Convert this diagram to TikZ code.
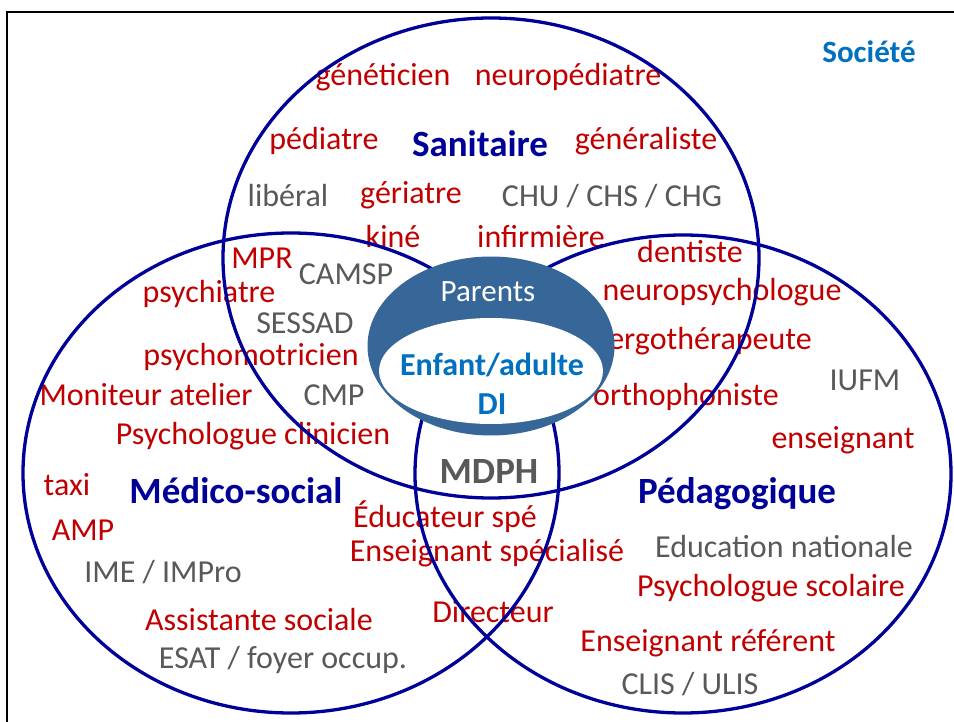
\documentclass[tikz,border=0pt]{standalone}
\usepackage{fontspec}
\setmainfont{Carlito}
\definecolor{rouge}{RGB}{192,0,0}
\definecolor{gris}{RGB}{89,89,89}
\definecolor{marine}{RGB}{0,0,153}
\definecolor{bleu}{RGB}{0,112,192}
\definecolor{bleufonce}{RGB}{54,103,152}

\begin{document}
\begin{tikzpicture}[x=1pt,y=-1pt,
    cercle/.style={draw=marine,line width=3.3pt}]

      \useasboundingbox (0,0) rectangle (954,722);
      \clip (0,0) rectangle (954,722);
      \draw[line width=2pt] (7,12) rectangle (990,760);

      \begin{scope}[every node/.style={inner sep=0pt,text=rouge,font=\fontsize{32}{38}\selectfont}]
        \node (genet)    at (383,77)  {généticien};
        \node (neuroped) at (568,77)  {neuropédiatre};
        \node (ped)      at (324,141) {pédiatre};
        \node (gene)     at (646,141) {généraliste};
        \node (ger)      at (411,195) {gériatre};
        \node (kine)     at (393,237) {kiné};
        \node (infi)     at (541,237) {infirmière};
        \node (mpr)      at (262,258) {MPR};
        \node (dent)     at (690,252) {dentiste};
        \node (neuropsy) at (722,292) {neuropsychologue};
        \node (psy)      at (209,294) {psychiatre};
        \node (ergo)     at (710,341) {ergothérapeute};
        \node (psymot)   at (251,357) {psychomotricien};
        \node (moni)     at (146,395) {Moniteur atelier};
        \node (ortho)    at (686,397) {orthophoniste};
        \node (psycli)   at (253,436) {Psychologue clinicien};
        \node (ens)      at (843,440) {enseignant};
        \node (taxi)     at (67,485)  {taxi};
        \node (educ)     at (445,517) {Éducateur spé};
        \node (amp)      at (83,530)  {AMP};
        \node (ensspe)   at (487,553) {Enseignant spécialisé};
        \node (psysco)   at (771,588) {Psychologue scolaire};
        \node (assist)   at (259,620) {Assistante sociale};
        \node (dir)      at (493,612) {Directeur};
        \node (ensref)   at (708,643) {Enseignant référent};
      \end{scope}

      \begin{scope}[every node/.style={inner sep=0pt,text=gris,font=\fontsize{32}{38}\selectfont}]
        \node (lib)   at (288,196) {libéral};
        \node (chu)   at (612,196) {CHU / CHS / CHG};
        \node (camsp) at (346,274) {CAMSP};
        \node (sessad) at (305,323) {SESSAD};
        \node (cmp)   at (334,395) {CMP};
        \node (iufm)  at (865,380) {IUFM};
        \node (educnat) at (784,547) {Education nationale};
        \node (ime)   at (163,572) {IME / IMPro};
        \node (esat)  at (283,660) {ESAT / foyer occup.};
        \node (clis)  at (690,684) {CLIS / ULIS};
      \end{scope}

      \begin{scope}[every node/.style={inner sep=0pt,text=marine,font=\fontsize{37}{44}\selectfont\bfseries}]
        \node (sani) at (480,144) {Sanitaire};
        \node (medi) at (236,491) {Médico-social};
        \node (peda) at (737,494) {Pédagogique};
        \node[text=gris] (mdph) at (489,472) {MDPH};
      \end{scope}

      \node[inner sep=0pt,text=bleu,font=\fontsize{31}{37}\selectfont\bfseries] (soc) at (869,52) {Société};

      \draw[cercle] (491,258) ellipse [x radius=268, y radius=240];
      \draw[cercle] (291,473) ellipse [x radius=268, y radius=240];
      \draw[cercle] (683,474) ellipse [x radius=268, y radius=239];

      \fill[bleufonce] (491,346) ellipse [x radius=123.5, y radius=89.5];
      \fill[white] (491,371) ellipse [x radius=112, y radius=53];

      \node[inner sep=0pt,text=white,font=\fontsize{31}{37}\selectfont] (par) at (488,292) {Parents};
      \node[inner sep=0pt,text=bleu,align=center,font=\fontsize{32}{39}\selectfont\bfseries] (enf) at (492,384) {Enfant/adulte\\DI};

    \end{tikzpicture}
\end{document}
